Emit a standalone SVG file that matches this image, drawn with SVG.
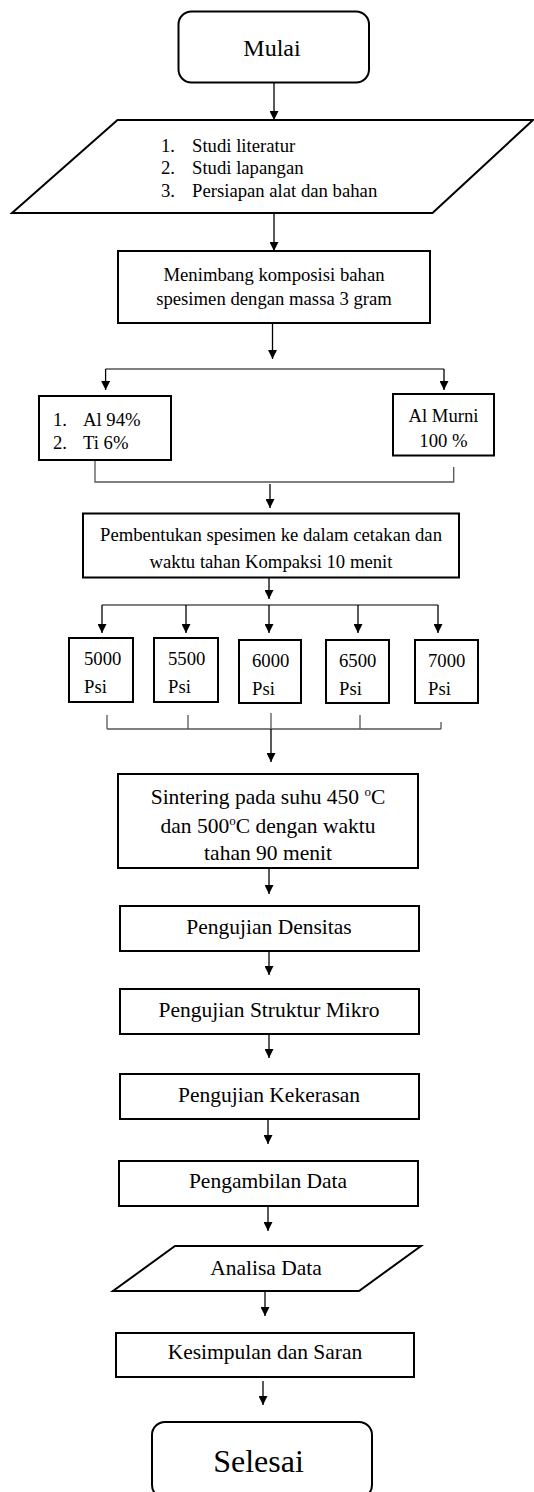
<svg xmlns="http://www.w3.org/2000/svg" width="534" height="1492" viewBox="0 0 534 1492" font-family="'Liberation Serif', 'DejaVu Serif', serif">
<style>
.box{fill:#fff;stroke:#000;stroke-width:2}
.ln{fill:none;stroke:#000;stroke-width:1.3}
.mg{fill:none;stroke:#555;stroke-width:1.3}
text{fill:#000}
.t1{font-size:18.7px}
.t2{font-size:21.5px}
.c{text-anchor:middle}
</style>
<defs>
<marker id="ah" viewBox="0 0 10 10" refX="10" refY="5" markerWidth="10" markerHeight="9" markerUnits="userSpaceOnUse" orient="auto">
<path d="M0,0 L10,5 L0,10 z" fill="#000"/>
</marker>
</defs>
<g id="connectors">
<line class="ln" x1="274" y1="82.5" x2="274" y2="120" marker-end="url(#ah)"/>
<line class="ln" x1="274" y1="213" x2="274" y2="251" marker-end="url(#ah)"/>
<line class="ln" x1="272.5" y1="323" x2="272.5" y2="359" marker-end="url(#ah)"/>
<line class="mg" x1="105.6" y1="369" x2="444" y2="369"/>
<line class="ln" x1="105.6" y1="369" x2="105.6" y2="390" marker-end="url(#ah)"/>
<line class="ln" x1="444" y1="369" x2="444" y2="390" marker-end="url(#ah)"/>
<polyline class="mg" points="95,460 95,482 453.7,482 453.7,467"/>
<line class="ln" x1="270" y1="484" x2="270" y2="508" marker-end="url(#ah)"/>
<line class="ln" x1="269" y1="577.5" x2="269" y2="599" marker-end="url(#ah)"/>
<line class="mg" x1="102" y1="605" x2="438" y2="605"/>
<line class="ln" x1="102" y1="605" x2="102" y2="633" marker-end="url(#ah)"/>
<line class="ln" x1="186" y1="605" x2="186" y2="633" marker-end="url(#ah)"/>
<line class="ln" x1="269" y1="605" x2="269" y2="633" marker-end="url(#ah)"/>
<line class="ln" x1="358" y1="605" x2="358" y2="633" marker-end="url(#ah)"/>
<line class="ln" x1="438" y1="605" x2="438" y2="633" marker-end="url(#ah)"/>
<line class="mg" x1="107" y1="715" x2="107" y2="729"/>
<line class="mg" x1="188" y1="715" x2="188" y2="729"/>
<line class="mg" x1="271" y1="713" x2="271" y2="729"/>
<line class="mg" x1="360" y1="715" x2="360" y2="729"/>
<line class="mg" x1="441" y1="722" x2="441" y2="729"/>
<line class="mg" x1="107" y1="729" x2="441" y2="729"/>
<line class="ln" x1="271" y1="729" x2="271" y2="762" marker-end="url(#ah)"/>
<line class="ln" x1="269" y1="868" x2="269" y2="894" marker-end="url(#ah)"/>
<line class="ln" x1="269" y1="951" x2="269" y2="975" marker-end="url(#ah)"/>
<line class="ln" x1="269" y1="1034" x2="269" y2="1058" marker-end="url(#ah)"/>
<line class="ln" x1="268" y1="1119" x2="268" y2="1144" marker-end="url(#ah)"/>
<line class="ln" x1="268" y1="1206" x2="268" y2="1231" marker-end="url(#ah)"/>
<line class="ln" x1="265" y1="1291" x2="265" y2="1316" marker-end="url(#ah)"/>
<line class="ln" x1="263" y1="1381" x2="263" y2="1405" marker-end="url(#ah)"/>
</g>
<g id="mulai">
<rect class="box" x="178.5" y="11.5" width="190.5" height="71" rx="13"/>
<text class="c" x="272" y="56" font-size="24">Mulai</text>
</g>
<g id="studi">
<polygon class="box" points="117.5,120 533,120 432.5,213 12,213"/>
<text class="t1" x="161" y="152">1.</text><text class="t1" x="192" y="152">Studi literatur</text>
<text class="t1" x="161" y="174">2.</text><text class="t1" x="192" y="174">Studi lapangan</text>
<text class="t1" x="161" y="197">3.</text><text class="t1" x="192" y="197">Persiapan alat dan bahan</text>
</g>
<g id="menimbang">
<rect class="box" x="118" y="251" width="312" height="72"/>
<text class="t1 c" x="274" y="281">Menimbang komposisi bahan</text>
<text class="t1 c" x="274" y="305">spesimen dengan massa 3 gram</text>
</g>
<g id="alti">
<rect class="box" x="39" y="396" width="132" height="64"/>
<text class="t1" x="53" y="426">1.</text><text class="t1" x="83" y="426">Al 94%</text>
<text class="t1" x="53" y="449">2.</text><text class="t1" x="83" y="449">Ti 6%</text>
</g>
<g id="almurni">
<rect class="box" x="393" y="394" width="101" height="61.5"/>
<text class="t1 c" x="443.5" y="422">Al Murni</text>
<text class="t1 c" x="443.5" y="447">100 %</text>
</g>
<g id="pembentukan">
<rect class="box" x="83" y="513.5" width="376" height="64"/>
<text class="t1 c" x="271" y="541">Pembentukan spesimen ke dalam cetakan dan</text>
<text class="t1 c" x="271" y="568">waktu tahan Kompaksi 10 menit</text>
</g>
<g id="p5000">
<rect class="box" x="69" y="638" width="64" height="64"/>
<text class="t1" x="84" y="665">5000</text><text class="t1" x="84" y="693">Psi</text>
</g>
<g id="p5500">
<rect class="box" x="154" y="638" width="64" height="64"/>
<text class="t1" x="168" y="665">5500</text><text class="t1" x="168" y="693">Psi</text>
</g>
<g id="p6000">
<rect class="box" x="239" y="640" width="62" height="63"/>
<text class="t1" x="252" y="667">6000</text><text class="t1" x="252" y="695">Psi</text>
</g>
<g id="p6500">
<rect class="box" x="326" y="640" width="63" height="63"/>
<text class="t1" x="339" y="667">6500</text><text class="t1" x="339" y="695">Psi</text>
</g>
<g id="p7000">
<rect class="box" x="415" y="640" width="63" height="63"/>
<text class="t1" x="428" y="667">7000</text><text class="t1" x="428" y="695">Psi</text>
</g>
<g id="sintering">
<rect class="box" x="118" y="774" width="300" height="94"/>
<text class="t2 c" x="268" y="804">Sintering pada suhu 450 <tspan font-size="13" dy="-8">o</tspan><tspan dy="8">C</tspan></text>
<text class="t2 c" x="268" y="833">dan 500<tspan font-size="13" dy="-8">o</tspan><tspan dy="8">C dengan waktu</tspan></text>
<text class="t2 c" x="268" y="860">tahan 90 menit</text>
</g>
<g id="densitas">
<rect class="box" x="120" y="906" width="299" height="45"/>
<text class="t2 c" x="269" y="934">Pengujian Densitas</text>
</g>
<g id="mikro">
<rect class="box" x="120" y="989" width="299" height="45"/>
<text class="t2 c" x="269" y="1017">Pengujian Struktur Mikro</text>
</g>
<g id="kekerasan">
<rect class="box" x="120" y="1074" width="299" height="45"/>
<text class="t2 c" x="269" y="1102">Pengujian Kekerasan</text>
</g>
<g id="pengambilan">
<rect class="box" x="119" y="1161" width="299" height="45"/>
<text class="t2 c" x="268" y="1188">Pengambilan Data</text>
</g>
<g id="analisa">
<polygon class="box" points="175,1246 421,1246 359,1291 113,1291"/>
<text class="t2 c" x="266" y="1275">Analisa Data</text>
</g>
<g id="kesimpulan">
<rect class="box" x="116" y="1333" width="298" height="44"/>
<text class="t2 c" x="265" y="1359">Kesimpulan dan Saran</text>
</g>
<g id="selesai">
<rect class="box" x="152" y="1422" width="220" height="76" rx="13"/>
<text class="c" x="258.5" y="1472" font-size="32">Selesai</text>
</g>
</svg>
